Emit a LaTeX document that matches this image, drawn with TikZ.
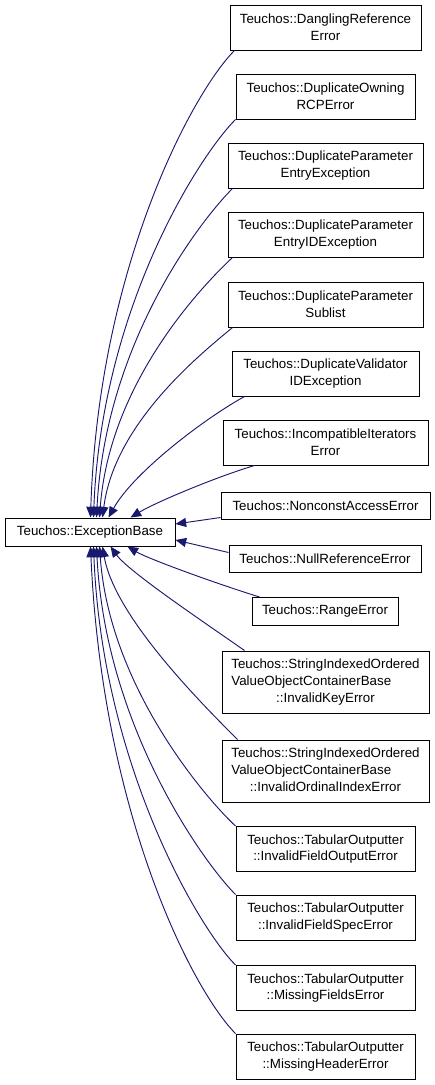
\documentclass[tikz,border=0pt]{standalone}
\usepackage{fontspec}
\setmainfont{Liberation Sans}
\usetikzlibrary{arrows.meta,calc}
\definecolor{edgeblue}{RGB}{25,25,112}

\begin{document}
\begin{tikzpicture}[x=0.75pt,y=-0.75pt,
  cls/.style={draw=black,line width=0.75pt,fill=white,inner sep=0pt,align=center,
    font=\fontsize{10}{12.5}\selectfont,minimum height=33.75pt},
  inherit/.style={draw=edgeblue,line width=0.7pt,-{Triangle[length=8pt,width=6.8pt]}}]
\useasboundingbox (0,0) rectangle (435,1085);

\node[cls,minimum width=127.5pt,minimum height=21pt] (base) at (90,532) {Teuchos::ExceptionBase};

\node[cls,minimum width=143.25pt] (dangling) at (325.5,27.5) {Teuchos::DanglingReference\\Error};
\node[cls,minimum width=134.25pt] (owning) at (325.5,96.5) {Teuchos::DuplicateOwning\\RCPError};
\node[cls,minimum width=146.25pt] (entryex) at (325.5,165.5) {Teuchos::DuplicateParameter\\EntryException};
\node[cls,minimum width=146.25pt] (entryid) at (325.5,234.5) {Teuchos::DuplicateParameter\\EntryIDException};
\node[cls,minimum width=146.25pt] (sublist) at (325.5,304.5) {Teuchos::DuplicateParameter\\Sublist};
\node[cls,minimum width=140.25pt] (validator) at (325.5,373.5) {Teuchos::DuplicateValidator\\IDException};
\node[cls,minimum width=153.75pt] (incompat) at (325.5,442.5) {Teuchos::IncompatibleIterators\\Error};
\node[cls,minimum width=156.75pt,minimum height=20.25pt] (nonconst) at (325.5,505.5) {Teuchos::NonconstAccessError};
\node[cls,minimum width=144pt,minimum height=20.25pt] (nullref) at (325,558.5) {Teuchos::NullReferenceError};
\node[cls,minimum width=109.5pt,minimum height=21pt] (range) at (325,611.5) {Teuchos::RangeError};
\node[cls,minimum width=155.25pt,minimum height=46.5pt] (keyerr) at (325.5,682)
  {\begin{tabular}{@{}l@{}}Teuchos::StringIndexedOrdered\\ValueObjectContainerBase\\\multicolumn{1}{@{}c@{}}{::InvalidKeyError}\end{tabular}};
\node[cls,minimum width=155.25pt,minimum height=46.5pt] (ordinal) at (325.5,771)
  {\begin{tabular}{@{}l@{}}Teuchos::StringIndexedOrdered\\ValueObjectContainerBase\\\multicolumn{1}{@{}c@{}}{::InvalidOrdinalIndexError}\end{tabular}};
\node[cls,minimum width=134.25pt] (fieldout) at (325.5,849) {Teuchos::TabularOutputter\\::InvalidFieldOutputError};
\node[cls,minimum width=134.25pt] (fieldspec) at (325.5,917.5) {Teuchos::TabularOutputter\\::InvalidFieldSpecError};
\node[cls,minimum width=134.25pt] (missfields) at (325.5,988) {Teuchos::TabularOutputter\\::MissingFieldsError};
\node[cls,minimum width=134.25pt] (misshead) at (325.5,1056.5) {Teuchos::TabularOutputter\\::MissingHeaderError};

\draw[inherit] ($(dangling.south west)+(5,0)$) .. controls +(-42,42) and +(8,-250) .. ($(base.north west)+(86,0)$);
\draw[inherit] (owning.south west) .. controls +(-36,36) and +(8,-210) .. ($(base.north west)+(89,0)$);
\draw[inherit] ($(entryex.south west)+(5,0)$) .. controls +(-32,32) and +(9,-175) .. ($(base.north west)+(92,0)$);
\draw[inherit] ($(entryid.south west)+(5,0)$) .. controls +(-30,28) and +(10,-135) .. ($(base.north west)+(95,0)$);
\draw[inherit] ($(sublist.south west)+(5,0)$) .. controls +(-30,25) and +(12,-95) .. ($(base.north west)+(98,0)$);
\draw[inherit] ($(validator.south west)+(13,0)$) .. controls +(-40,22) and +(25,-45) .. ($(base.north west)+(104,0)$);
\draw[inherit] ($(incompat.south west)+(32,0)$) .. controls +(-40,12) and +(25,-15) .. ($(base.north west)+(126,0)$);
\draw[inherit] ($(nonconst.south west)+(0,-2)$) -- ($(base.east)+(0,-8)$);
\draw[inherit] ($(nullref.west)+(0,-6)$) -- ($(base.east)+(0,8)$);
\draw[inherit] ($(range.north west)+(8,0)$) .. controls +(-45,-14) and +(20,12) .. ($(base.south west)+(123,0)$);
\draw[inherit] ($(keyerr.north west)+(23,0)$) .. controls +(-40,-28) and +(18,25) .. ($(base.south west)+(106,0)$);
\draw[inherit] ($(ordinal.north west)+(16,0)$) .. controls +(-35,-35) and +(12,70) .. ($(base.south west)+(98,0)$);
\draw[inherit] (fieldout.north west) .. controls +(-30,-28) and +(10,140) .. ($(base.south west)+(95,0)$);
\draw[inherit] (fieldspec.north west) .. controls +(-32,-32) and +(9,180) .. ($(base.south west)+(92,0)$);
\draw[inherit] (missfields.north west) .. controls +(-36,-36) and +(9,220) .. ($(base.south west)+(89,0)$);
\draw[inherit] (misshead.north west) .. controls +(-42,-42) and +(12,270) .. ($(base.south west)+(86,0)$);
\end{tikzpicture}
\end{document}
